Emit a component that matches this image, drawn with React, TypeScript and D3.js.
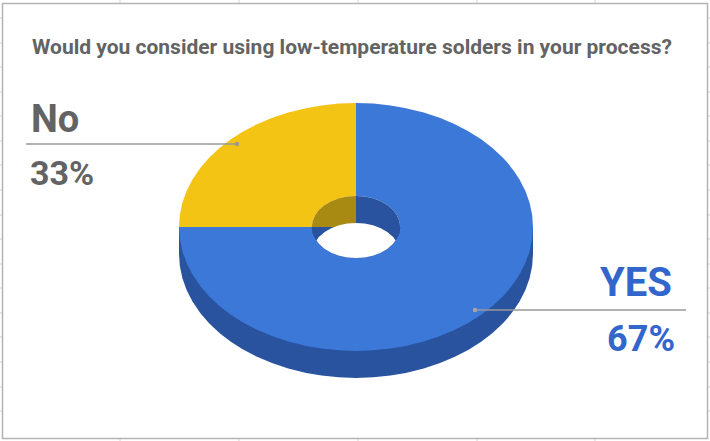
import React from "react";
import * as d3 from "d3";

const title = "Would you consider using low-temperature solders in your process?";
const categories = ["YES", "No"];
// the slices are drawn 3/4 and 1/4 in the picture, although the labels say 67% and 33%
const sliceValues = [75, 25];
const percentLabels = ["67%", "33%"];
const sliceColors = ["#3c78d8", "#f4c414"];
const wallColors = ["#29539e", "#a88a12"];
const columnTicks = [120, 239, 358, 477, 595];
const rowTicks = [18, 43, 67, 92, 116, 141, 165, 190, 215, 239, 264, 288, 313, 337, 362, 387, 411];

const width = 710;
const height = 441;
const cx = 356;
const cy = 227;
const rx = 177;
const ry = 124;
const depth = 27;
const holeRatio = 0.25;
const textGrey = "#636363";

const App = () => {
  const pie = d3
    .pie<number>()
    .sort(null)
    .value((d) => d);
  const slices = pie(sliceValues);

  // drawn on a unit circle, then squashed to an ellipse by the transform
  const ring = d3.arc<d3.PieArcDatum<number>>().innerRadius(holeRatio).outerRadius(1);
  const disc = d3.arc<d3.PieArcDatum<number>>().innerRadius(0).outerRadius(1);
  const lowerHalf = d3.arc()({
    innerRadius: 0,
    outerRadius: 1,
    startAngle: Math.PI / 2,
    endAngle: (3 * Math.PI) / 2,
  }) as string;

  const squash = (dy: number, r = 1) => `translate(${cx},${cy + dy}) scale(${rx * r},${ry * r})`;

  return (
    <svg
      width={width}
      height={height}
      style={{ position: "absolute", left: 0, top: 0, fontFamily: "Roboto" }}
    >
      <rect width={width} height={height} fill="#ffffff" />

      {/* bits of the spreadsheet grid showing round the chart */}
      {columnTicks.map((x) => (
        <g key={x} stroke="#d4d4d4">
          <line x1={x} x2={x} y1={0} y2={4} />
          <line x1={x} x2={x} y1={437} y2={441} />
        </g>
      ))}
      {rowTicks.map((y) => (
        <g key={y} stroke="#d4d4d4">
          <line x1={0} x2={4} y1={y} y2={y} />
          <line x1={706} x2={710} y1={y} y2={y} />
        </g>
      ))}
      <rect x={2.5} y={3.5} width={705} height={435} fill="#ffffff" stroke="#b4b4b4" strokeWidth={1.5} />

      <text x={32} y={54} fontSize={21} fontWeight={700} fill={textGrey}>
        {title}
      </text>

      {/* outer wall */}
      <path d={lowerHalf} transform={squash(depth)} fill={wallColors[0]} />
      <rect x={cx - rx} y={cy} width={2 * rx} height={depth} fill={wallColors[0]} />

      {/* top face */}
      {slices.map((s, i) => (
        <path key={categories[i]} d={ring(s) as string} transform={squash(0)} fill={sliceColors[i]} />
      ))}

      {/* the hole: inner wall, then the white seen through it */}
      <defs>
        <clipPath id="hole">
          <ellipse cx={cx} cy={cy} rx={rx * holeRatio} ry={ry * holeRatio} />
        </clipPath>
      </defs>
      <g clipPath="url(#hole)">
        {slices.map((s, i) => (
          <path key={categories[i]} d={disc(s) as string} transform={squash(0)} fill={wallColors[i]} />
        ))}
        <ellipse cx={cx} cy={cy + depth} rx={rx * holeRatio} ry={ry * holeRatio} fill="#ffffff" />
      </g>

      {/* No label */}
      <line x1={26} x2={237} y1={144} y2={144} stroke="#999999" strokeWidth={1.5} />
      <circle cx={237} cy={144} r={2.2} fill="#999999" />
      <text x={31} y={132} fontSize={38} fontWeight={700} fill={textGrey}>
        {categories[1]}
      </text>
      <text x={30} y={185} fontSize={34} fontWeight={700} fill={textGrey}>
        {percentLabels[1]}
      </text>

      {/* YES label */}
      <line x1={475} x2={686} y1={310} y2={310} stroke="#999999" strokeWidth={1.5} />
      <circle cx={475} cy={310} r={2.2} fill="#a6a6a6" />
      <text x={672} y={296} fontSize={40} fontWeight={700} fill="#3366cc" textAnchor="end">
        {categories[0]}
      </text>
      <text x={675} y={351} fontSize={36} fontWeight={700} fill="#3366cc" textAnchor="end">
        {percentLabels[0]}
      </text>
    </svg>
  );
};

export default App;
